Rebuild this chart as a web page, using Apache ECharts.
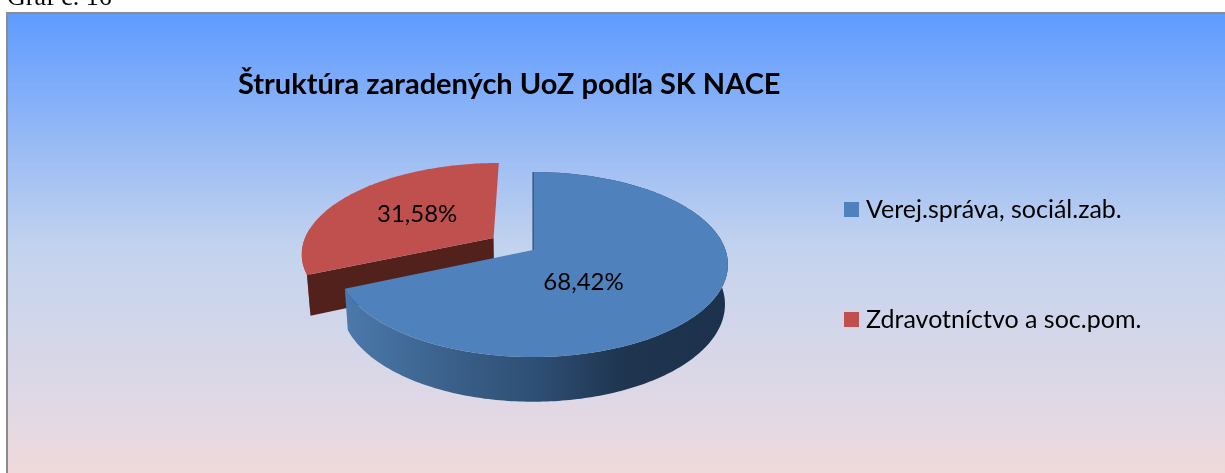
<!DOCTYPE html>
<html><head><meta charset="utf-8">
<style>html,body{margin:0;padding:0;background:#fff;overflow:hidden}#c{width:1225px;height:473px}</style>
<script src="https://cdn.jsdelivr.net/npm/echarts@6/dist/echarts.min.js"></script>
</head><body><div id="c"></div>
<script>
const caption = 'Graf č. 16';
const chartTitle = 'Štruktúra zaradených UoZ podľa SK NACE';
const categories = ['Verej.správa, sociál.zab.', 'Zdravotníctvo a soc.pom.'];
const shares = [68.42, 31.58];
const labels = ['68,42%', '31,58%'];

// projection layout of the tilted pie
const P = {cx:533, cy:250, fx:192.5, fy:90.2, k:0.157, depth:40, m:0.015, explode:[0,0.25]};
const labelAnchor = [{r:0.42, deg:143.7}, {r:0.516, deg:null}];
const topColors = ['#4f81bd', '#c0504d'];

const total = shares.reduce((a,b)=>a+b,0);
function sweep(i){
  let a = 0; for (let j=0;j<i;j++) a += shares[j]/total*360;
  return [a, a + shares[i]/total*360];
}
function proj(X,Y,low){
  const w = 1 + P.k*Y + (low?P.m:0);
  return [P.cx + P.fx*X/w, P.cy - P.fy*Y/w + (low?P.depth/w:0)];
}
function plane(i,r,deg){
  const [a0,a1] = sweep(i), mid=(a0+a1)/2*Math.PI/180, e=P.explode[i], t=deg*Math.PI/180;
  return [e*Math.sin(mid)+r*Math.sin(t), e*Math.cos(mid)+r*Math.cos(t)];
}
function pt(i,r,deg,low){ const q=plane(i,r,deg); return proj(q[0],q[1],low); }
function arc(i,a,b,low){
  const out=[]; const n=Math.max(2,Math.ceil(Math.abs(b-a)));
  for(let s=0;s<=n;s++) out.push(pt(i,1,a+(b-a)*s/n,low));
  return out;
}
function poly(points,fill){ return {type:'polygon',shape:{points},style:{fill}}; }

function renderSlice(params){
  const i = params.seriesIndex, [a0,a1] = sweep(i);
  const kids = [];
  if (i===1){
    const wall = arc(i,a0,a0+30,false).concat([pt(i,1,a0,true)]);
    kids.push(poly(wall,'#a8453f'));
    kids.push(poly([pt(i,0,a0,false),pt(i,1,a0,false),pt(i,1,a0,true),pt(i,0,a0,true)],'#52211c'));
  } else {
    const wall = arc(i,a0,a1,false).concat(arc(i,a0,a1,true).reverse());
    const grad = new echarts.graphic.LinearGradient(0,0,1,0,[
      {offset:0,color:'#4b79ab'},{offset:0.3,color:'#395e87'},{offset:0.5,color:'#2e4f75'},
      {offset:0.72,color:'#1f3550'},{offset:1,color:'#1c314b'}]);
    kids.push(poly(wall,grad));
  }
  const top = [pt(i,0,a0,false)].concat(arc(i,a0,a1,false));
  kids.push(poly(top,topColors[i]));
  if (i===0){
    const s=pt(i,0,a0,false), e=pt(i,1,a0,false);
    kids.push({type:'line',shape:{x1:s[0],y1:s[1],x2:e[0],y2:e[1]},style:{stroke:'#24405f',lineWidth:1}});
  }
  const la = labelAnchor[i], deg = la.deg===null ? (a0+a1)/2 : la.deg, lp = pt(i,la.r,deg,false);
  kids.push({type:'text',x:lp[0],y:lp[1],style:{text:labels[i],fill:'#000',font:'24px Lato, sans-serif',align:'center',verticalAlign:'middle'}});
  return {type:'group',children:kids};
}

const chart = echarts.init(document.getElementById('c'),null,{renderer:'canvas'});
chart.setOption({
  animation:false,
  backgroundColor:'#ffffff',
  graphic:[
    {type:'rect',z:-10,shape:{x:7,y:13,width:1300,height:600},
     style:{stroke:'#8c8c8c',lineWidth:2,fill:new echarts.graphic.LinearGradient(0,0,0,460/600,[
       {offset:0,color:'#5e9bff'},{offset:0.3,color:'#9bbcf4'},{offset:0.52,color:'#c4d4ee'},
       {offset:0.85,color:'#e0d8e5'},{offset:1,color:'#efdadb'}])}}
  ],
  title:[
    {text:chartTitle,left:238,top:70,padding:0,textStyle:{fontFamily:'Lato, sans-serif',fontWeight:'bold',fontSize:29,color:'#000'}},
    {text:caption,left:7,top:-15,padding:0,textStyle:{fontFamily:'"Liberation Serif", serif',fontWeight:'normal',fontSize:26,color:'#000'}}
  ],
  legend:{orient:'vertical',left:844,top:197,padding:0,itemWidth:15,itemHeight:15,itemGap:85,icon:'rect',data:categories,
    textStyle:{fontFamily:'Lato, sans-serif',fontSize:25,color:'#000',padding:[0,0,0,2]}},
  series:categories.map((name,i)=>({
    type:'custom',name,z:i===0?3:2,coordinateSystem:'none',renderItem:renderSlice,
    itemStyle:{color:topColors[i]},data:[shares[i]],silent:true
  }))
});
</script></body></html>
